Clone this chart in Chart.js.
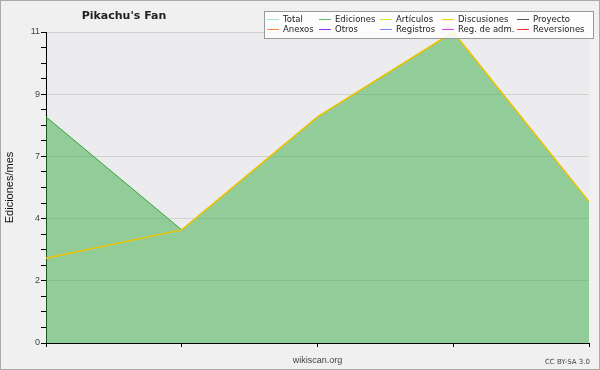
<!DOCTYPE html>
<html>
<head>
<meta charset="utf-8">
<script src="https://cdn.jsdelivr.net/npm/chart.js@4"></script>
<style>
  body { margin: 0; background: #fff; }
  #wrap { position: relative; width: 600px; height: 370px; box-sizing: border-box; border: 1px solid #aaa; background: #f0f0f0; font-family: "DejaVu Sans", sans-serif; }
  #wrap canvas { position: absolute; left: 0; top: 0; }
  #titulo { position: absolute; left: 0; width: 246px; top: 8px; text-align: center; font-weight: bold; font-size: 11px; color: #222; }
  #leyenda { position: absolute; left: 263px; top: 10px; width: 330px; height: 28px; box-sizing: border-box; background: rgba(255,255,255,0.85); border: 1px solid #999; font-size: 8.5px; color: #222; }
  .item { position: absolute; height: 10px; line-height: 10px; white-space: nowrap; }
  .item i { position: absolute; left: 0; top: 5px; width: 12px; height: 1px; }
  .item span { position: absolute; left: 16px; top: 0; }
  #cc { position: absolute; right: 9px; top: 357px; font-size: 7px; color: #444; }
</style>
</head>
<body>
<div id="wrap">
  <canvas id="grafico" width="598" height="368"></canvas>
  <div id="titulo">Pikachu's Fan</div>
  <div id="leyenda"></div>
  <div id="cc">CC BY-SA 3.0</div>
</div>
<script>
// datos
const categorias = ['1', '2', '3', '4', '5'];
const ediciones = [8, 4, 8, 11, 5];
const discusiones = [3, 4, 8, 11, 5];
const yMax = 11;
const yEtiquetas = ['0', '2', '4', '7', '9', '11'];

const nombres = ['Total', 'Ediciones', 'Artículos', 'Discusiones', 'Proyecto',
                 'Anexos', 'Otros', 'Registros', 'Reg. de adm.', 'Reversiones'];
const colores = ['#9fe6e6', '#66bb66', '#c8ec30', '#ffc820', '#555555',
                 '#ff8844', '#9933ee', '#7788ff', '#ee44ee', '#ff3333'];

const datasets = nombres.map(function (n, i) {
  return { label: n, data: [], borderColor: colores[i], borderWidth: 1, fill: false, order: 5 + i };
});
datasets[1].data = ediciones;
datasets[1].borderColor = 'rgb(55,165,55)';
datasets[1].backgroundColor = 'rgba(56,172,66,0.5)';
datasets[1].fill = 'origin';
datasets[1].order = 1;
datasets[3].data = discusiones;
datasets[3].borderColor = '#f0c400';
datasets[3].borderWidth = 1.5;
datasets[3].order = 0;

// leyenda
const leyenda = document.getElementById('leyenda');
const colX = [2, 54, 115, 177, 252];
nombres.forEach(function (n, i) {
  const d = document.createElement('div');
  d.className = 'item';
  d.style.left = colX[i % 5] + 'px';
  d.style.top = (i < 5 ? 2 : 12) + 'px';
  d.innerHTML = '<i style="background:' + colores[i] + '"></i><span>' + n + '</span>';
  leyenda.appendChild(d);
});

const fondoArea = {
  id: 'fondoArea',
  beforeDraw(chart) {
    const a = chart.chartArea;
    chart.ctx.save();
    chart.ctx.fillStyle = '#ececef';
    chart.ctx.fillRect(a.left, a.top, a.right - a.left, a.bottom - a.top);
    chart.ctx.restore();
  }
};

const ctx = document.getElementById('grafico');

new Chart(ctx, {
  type: 'line',
  data: { labels: categorias, datasets: datasets },
  plugins: [fondoArea],
  options: {
    responsive: false,
    animation: false,
    layout: { padding: { top: 31, right: 10, left: 0, bottom: 0 } },
    elements: { point: { radius: 0 }, line: { tension: 0 } },
    plugins: { legend: { display: false }, tooltip: { enabled: false } },
    scales: {
      x: {
        offset: false,
        grid: { drawOnChartArea: false, tickLength: 4, color: '#000' },
        border: { color: '#000' },
        ticks: { callback: function () { return ''; } },
        title: { display: true, text: 'wikiscan.org', font: { size: 9 }, color: '#444', padding: { top: 0, bottom: 3 } },
        afterFit(s) { s.height = 26; }
      },
      y: {
        min: 0,
        max: yMax,
        afterBuildTicks(s) {
          const t = [];
          for (let i = 0; i <= 20; i++) t.push({ value: i * yMax / 20 });
          s.ticks = t;
        },
        ticks: {
          autoSkip: false,
          padding: 1,
          font: { size: 9 },
          color: '#444',
          callback: function (v, i) { return i % 4 === 0 ? yEtiquetas[i / 4] : ''; }
        },
        grid: {
          color: function (c) { return c.index % 4 === 0 ? '#d2d2d2' : 'transparent'; },
          tickColor: '#000',
          tickLength: 5
        },
        border: { color: '#000' },
        title: { display: true, text: 'Ediciones/mes', font: { size: 11 }, color: '#111', padding: { top: 2, bottom: 0 } },
        afterFit(s) { s.width = 45; }
      }
    }
  }
});
</script>
</body>
</html>
